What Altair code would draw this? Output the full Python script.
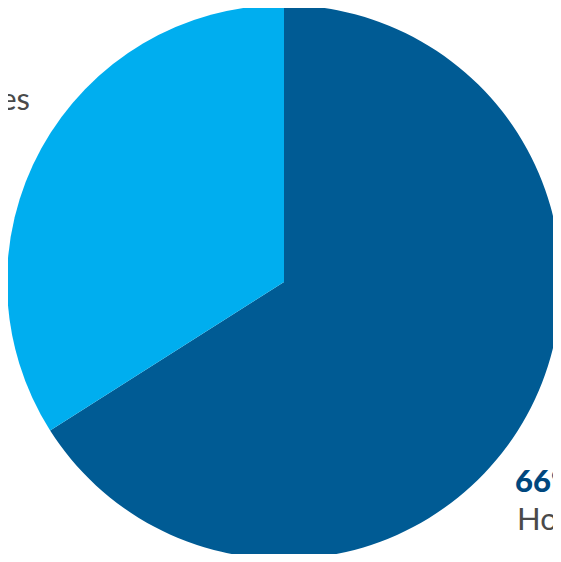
import altair as alt
import pandas as pd

categories = ["Households", "Businesses"]
shares = [66, 34]
colors = ["#005B94", "#00AEEF"]

pie_df = pd.DataFrame({"category": categories, "share": shares, "idx": list(range(len(categories)))})

pie = alt.Chart(pie_df).mark_arc(radius=277).encode(
    theta=alt.Theta("share:Q", stack=True),
    color=alt.Color("category:N", scale=alt.Scale(domain=categories, range=colors), legend=None),
    order=alt.Order("idx:Q"),
    x=alt.value(276),
    y=alt.value(274),
)

def label(text, x, y, bold, align):
    return alt.Chart(pd.DataFrame({"t": [text]})).mark_text(
        align=align,
        baseline="alphabetic",
        font="Lato",
        fontSize=31,
        fontWeight=900 if bold else "normal",
        color="#00477E" if bold else "#4A4A4A",
    ).encode(text="t:N", x=alt.value(x), y=alt.value(y))

right_pct = label(f"{shares[0]}%", 507, 484, True, "left")
right_name = label(categories[0], 509, 522, False, "left")
left_pct = label(f"{shares[1]}%", -128, 64, True, "left")
left_name = label(categories[1], 22, 102, False, "right")

chart = alt.layer(pie, right_pct, right_name, left_pct, left_name).properties(
    width=545, height=546, autosize=alt.AutoSizeParams(type="none"), padding=0
).configure_view(strokeWidth=0)

chart.save("out.html", embed_options={"renderer": "svg", "actions": False})
